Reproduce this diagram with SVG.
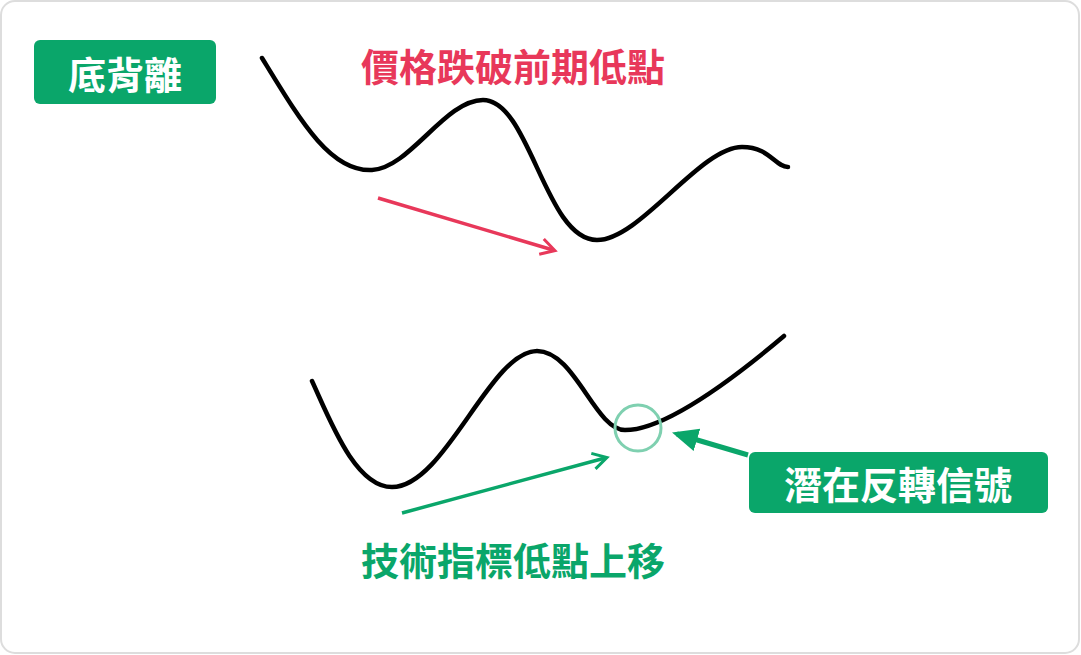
<svg xmlns="http://www.w3.org/2000/svg" width="1081" height="655" viewBox="0 0 1081 655">
<style>
.t{font-family:"Noto Sans CJK TC","Noto Sans CJK SC",sans-serif;font-weight:bold;text-anchor:middle;dominant-baseline:central}
.c{fill:none;stroke:#000;stroke-width:4.5;stroke-linecap:round}
</style>
<defs>
<marker id="ho" viewBox="0 0 20 20" refX="14" refY="10" markerWidth="20" markerHeight="20" markerUnits="userSpaceOnUse" orient="auto"><path d="M2,2 L16,10 L2,18" fill="none" stroke="context-stroke" stroke-width="3"/></marker>
<marker id="hf" viewBox="0 0 20 20" refX="16" refY="10" markerWidth="26" markerHeight="26" markerUnits="userSpaceOnUse" orient="auto"><path d="M0,1 L20,10 L0,19 Z" fill="#0aa66a"/></marker>
</defs>
<rect x="1" y="1" width="1078" height="652" rx="14" fill="#fff" stroke="#ddd" stroke-width="2"/>
<g id="curves">
<path class="c" d="M262,58 C300,120 330,172 372,170 C410,168 445,100 483,100 C530,100 545,240 597,240 C640,240 700,147 742,147 C770,147 775,167 788,167"/>
<path class="c" d="M312,381 C330,420 355,487 392,487 C445,487 490,351 537,351 C575,351 595,430 625,430 C660,430 720,390 784,336"/>
</g>
<g id="connectors">
<line x1="378" y1="198" x2="553" y2="250" stroke="#e8385a" stroke-width="3.5" marker-end="url(#ho)"/>
<line x1="402" y1="513" x2="605" y2="458" stroke="#0aa66a" stroke-width="3.5" marker-end="url(#ho)"/>
<line x1="748" y1="455" x2="677" y2="434" stroke="#0aa66a" stroke-width="5" marker-end="url(#hf)"/>
</g>
<g id="circle"><circle cx="638" cy="428" r="23" fill="none" stroke="#7fd0b0" stroke-width="3"/></g>
<g id="title"><rect x="34" y="40" width="182" height="64" rx="6" fill="#0aa66a"/><text class="t" x="125" y="72" font-size="38" fill="#fff">底背離</text></g>
<g id="signal"><rect x="749" y="452" width="299" height="61" rx="6" fill="#0aa66a"/><text class="t" x="898" y="482" font-size="38" fill="#fff">潛在反轉信號</text></g>
<g id="redlabel"><text class="t" x="513" y="64" font-size="38" fill="#e8385a">價格跌破前期低點</text></g>
<g id="greenlabel"><text class="t" x="513" y="558" font-size="38" fill="#0aa66a">技術指標低點上移</text></g>
</svg>
